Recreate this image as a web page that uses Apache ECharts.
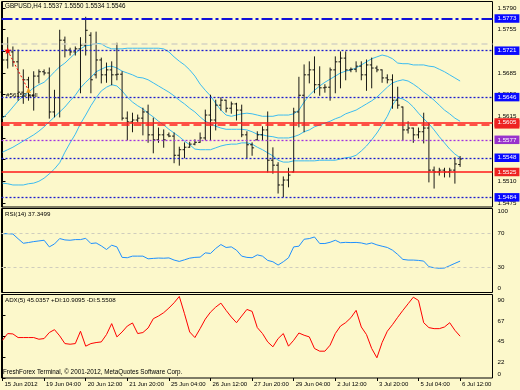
<!DOCTYPE html>
<html><head><meta charset="utf-8">
<script src="https://cdn.jsdelivr.net/npm/echarts@6/dist/echarts.min.js"></script>
<style>html,body{margin:0;padding:0;background:#fcf8cb;}#c{width:520px;height:390px;}</style>
</head><body><div id="c"></div>
<script>
// ---- data ----
const openP = [1.5654,1.5706,1.5719,1.5703,1.5654,1.5674,1.5649,1.5680,1.5687,1.5685,
1.5622,1.5645,1.5738,1.5722,1.5719,1.5724,1.5730,1.5746,1.5682,1.5706,
1.5682,1.5690,1.5682,1.5683,1.5612,1.5606,1.5609,1.5612,1.5622,1.5585,
1.5577,1.5585,1.5585,1.5583,1.5552,1.5561,1.5565,1.5570,1.5573,1.5580,
1.5617,1.5609,1.5633,1.5641,1.5628,1.5635,1.5625,1.5585,1.5569,1.5577,
1.5585,1.5593,1.5544,1.5536,1.5504,1.5512,1.5525,1.5622,1.5649,1.5682,
1.5690,1.5666,1.5661,1.5662,1.5690,1.5703,1.5709,1.5690,1.5691,1.5696,
1.5682,1.5698,1.5693,1.5690,1.5677,1.5674,1.5641,1.5630,1.5593,1.5596,
1.5585,1.5590,1.5596,1.5528,1.5525,1.5528,1.5525,1.5528,1.5537];
const highP = [1.5722,1.5742,1.5727,1.5722,1.5690,1.5678,1.5687,1.5690,1.5690,1.5693,
1.5657,1.5754,1.5743,1.5725,1.5727,1.5742,1.5775,1.5750,1.5751,1.5709,
1.5701,1.5703,1.5733,1.5687,1.5622,1.5620,1.5617,1.5628,1.5633,1.5612,
1.5596,1.5593,1.5588,1.5588,1.5565,1.5572,1.5573,1.5577,1.5588,1.5625,
1.5649,1.5641,1.5645,1.5641,1.5638,1.5636,1.5633,1.5590,1.5572,1.5590,
1.5598,1.5622,1.5564,1.5540,1.5517,1.5531,1.5628,1.5678,1.5698,1.5703,
1.5711,1.5695,1.5666,1.5693,1.5711,1.5719,1.5719,1.5693,1.5703,1.5703,
1.5706,1.5709,1.5696,1.5690,1.5682,1.5682,1.5662,1.5630,1.5606,1.5596,
1.5596,1.5620,1.5604,1.5533,1.5531,1.5531,1.5531,1.5548,1.5550];
const lowP = [1.5648,1.5693,1.5696,1.5641,1.5636,1.5641,1.5625,1.5669,1.5682,1.5612,
1.5614,1.5614,1.5711,1.5714,1.5714,1.5653,1.5714,1.5653,1.5677,1.5669,
1.5670,1.5666,1.5674,1.5609,1.5577,1.5590,1.5606,1.5585,1.5573,1.5556,
1.5573,1.5565,1.5582,1.5540,1.5536,1.5548,1.5565,1.5569,1.5573,1.5577,
1.5577,1.5593,1.5625,1.5622,1.5620,1.5609,1.5582,1.5548,1.5552,1.5577,
1.5577,1.5525,1.5523,1.5491,1.5485,1.5501,1.5525,1.5598,1.5590,1.5669,
1.5653,1.5649,1.5654,1.5641,1.5653,1.5661,1.5674,1.5687,1.5687,1.5674,
1.5657,1.5661,1.5687,1.5670,1.5669,1.5628,1.5628,1.5577,1.5588,1.5573,
1.5580,1.5572,1.5509,1.5499,1.5520,1.5517,1.5517,1.5507,1.5534];
const closeP = [1.5706,1.5719,1.5703,1.5654,1.5674,1.5649,1.5680,1.5687,1.5685,1.5622,
1.5645,1.5738,1.5722,1.5719,1.5724,1.5730,1.5754,1.5674,1.5706,1.5682,
1.5690,1.5682,1.5683,1.5612,1.5606,1.5609,1.5612,1.5622,1.5585,1.5577,
1.5585,1.5577,1.5583,1.5552,1.5561,1.5565,1.5570,1.5573,1.5580,1.5617,
1.5609,1.5633,1.5641,1.5628,1.5635,1.5625,1.5585,1.5569,1.5564,1.5585,
1.5593,1.5544,1.5536,1.5504,1.5512,1.5520,1.5622,1.5649,1.5682,1.5690,
1.5666,1.5661,1.5662,1.5690,1.5703,1.5709,1.5690,1.5691,1.5696,1.5682,
1.5698,1.5693,1.5690,1.5677,1.5674,1.5641,1.5633,1.5593,1.5596,1.5585,
1.5590,1.5596,1.5528,1.5525,1.5528,1.5525,1.5528,1.5538,1.5546];
const bbUpper = [1.5612,1.5620,1.5630,1.5640,1.5648,1.5654,1.5661,1.5666,1.5670,1.5678,
1.5687,1.5695,1.5701,1.5709,1.5717,1.5724,1.5729,1.5730,1.5733,1.5732,
1.5727,1.5724,1.5724,1.5724,1.5725,1.5725,1.5725,1.5725,1.5725,1.5725,
1.5725,1.5724,1.5719,1.5711,1.5704,1.5698,1.5690,1.5680,1.5667,1.5657,
1.5648,1.5636,1.5625,1.5617,1.5615,1.5617,1.5619,1.5620,1.5619,1.5617,
1.5615,1.5615,1.5615,1.5617,1.5617,1.5617,1.5619,1.5625,1.5638,1.5649,
1.5657,1.5664,1.5670,1.5675,1.5680,1.5685,1.5688,1.5690,1.5693,1.5698,
1.5703,1.5708,1.5711,1.5714,1.5712,1.5708,1.5701,1.5700,1.5700,1.5698,
1.5698,1.5698,1.5696,1.5695,1.5691,1.5687,1.5682,1.5677,1.5672];
const bbMiddle = [1.5557,1.5561,1.5565,1.5570,1.5575,1.5580,1.5585,1.5591,1.5598,1.5606,
1.5614,1.5622,1.5630,1.5640,1.5649,1.5661,1.5670,1.5678,1.5687,1.5691,
1.5695,1.5696,1.5693,1.5688,1.5685,1.5682,1.5678,1.5677,1.5674,1.5669,
1.5664,1.5659,1.5654,1.5648,1.5641,1.5635,1.5628,1.5622,1.5614,1.5607,
1.5603,1.5599,1.5596,1.5594,1.5594,1.5594,1.5594,1.5593,1.5590,1.5586,
1.5585,1.5583,1.5582,1.5580,1.5580,1.5580,1.5582,1.5585,1.5590,1.5593,
1.5598,1.5601,1.5604,1.5607,1.5611,1.5614,1.5619,1.5622,1.5625,1.5630,
1.5635,1.5640,1.5646,1.5654,1.5662,1.5669,1.5672,1.5674,1.5672,1.5667,
1.5661,1.5654,1.5648,1.5641,1.5633,1.5625,1.5619,1.5612,1.5607];
const bbLower = [1.5507,1.5506,1.5504,1.5504,1.5504,1.5506,1.5507,1.5510,1.5515,1.5522,
1.5530,1.5540,1.5557,1.5572,1.5586,1.5603,1.5617,1.5632,1.5645,1.5656,
1.5662,1.5666,1.5664,1.5656,1.5646,1.5638,1.5632,1.5627,1.5620,1.5614,
1.5607,1.5601,1.5594,1.5588,1.5582,1.5575,1.5569,1.5562,1.5561,1.5561,
1.5561,1.5564,1.5567,1.5569,1.5570,1.5570,1.5572,1.5572,1.5570,1.5565,
1.5561,1.5556,1.5551,1.5544,1.5541,1.5541,1.5543,1.5543,1.5543,1.5543,
1.5543,1.5544,1.5544,1.5544,1.5544,1.5546,1.5548,1.5549,1.5552,1.5559,
1.5567,1.5577,1.5588,1.5601,1.5615,1.5633,1.5645,1.5643,1.5638,1.5630,
1.5620,1.5611,1.5603,1.5593,1.5582,1.5572,1.5562,1.5554,1.5548];
const rsi = [70,70,69.6,64,58.6,59.5,60.6,61.4,62.2,54.3,
57.8,64.2,62.6,62.2,63,63,64.5,58.3,59,55.5,
51.2,56.3,54.3,41.8,41.4,43.3,43.3,43.3,40.1,40.6,
41.0,40.8,41.2,38.6,37,38.9,40.9,41.8,42.1,47.2,
46.5,52.4,57.1,53.6,54.3,50.4,43.3,41.8,41.4,44.8,
43.3,38.2,36.6,32.7,36.6,41.3,54.3,55.1,63.4,64.2,
66.1,58.3,58.3,59.8,62.2,59.2,59.7,59.4,59.6,59,
57.5,59,56.7,55.1,53.6,50.4,45.3,39.4,38.6,38.6,
38.2,37.4,30.7,29.5,28.8,29.1,31.9,34.7,37.3499];
const adx = [40.7,47.9,47.5,43.6,43.6,43.6,43.6,41.8,42.5,49,
52.1,45.4,37.1,36.4,37.1,50.4,34.3,37.1,38.2,38.9,
46.8,58.6,44.3,49.6,56,59.3,47.9,49,53.9,63.9,
66.8,70.4,75.4,81.1,87.9,69.3,49.6,43.6,53.2,63.5,
71,76.4,80.7,72.9,65.7,59.6,66.8,73.9,71.8,54.3,
47.9,38.9,33.6,42.5,47.9,34.3,40.7,48.5,46.1,44.3,
31.8,28.9,28.9,35.4,47.9,56,59.7,65,72.9,55,
46.8,31.8,21.8,38.2,50.4,57.5,65.4,72.9,80,87.1,
83.6,59.6,54.3,53.2,53.2,55,59.6,51.4,45.0357];
const xTickLabels = ['15 Jun 2012','19 Jun 04:00','20 Jun 12:00','21 Jun 20:00','25 Jun 04:00','26 Jun 12:00',
  '27 Jun 20:00','29 Jun 04:00','2 Jul 12:00','3 Jul 20:00','5 Jul 04:00','6 Jul 12:00'];
const xTickBars = [0,8,16,24,32,40,48,56,64,72,80,88];
const priceTicks = [1.5790,1.5755,1.5720,1.5685,1.5650,1.5615,1.5580,1.5545,1.5510,1.5475];
const rsiTicks = [0,30,70,100];
const rsiLevels = [70,30];
const adxTicks = [0,22.5,45,67.5,90];
const levelPrices = [1.5773,1.5733,1.5721,1.5646,1.5602,1.5605,1.5577,1.5548,1.5525,1.5484];
const orderBars = [1,5];
const orderPrices = [1.5721,1.5657];
const titleText = 'GBPUSD,H4 1.5537 1.5550 1.5534 1.5546';
const rsiText = 'RSI(14) 37.3499';
const adxText = 'ADX(5) 45.0357 +DI:10.9095 -DI:5.5508';
const footText = 'FreshForex Terminal, \u00A9 2001-2012, MetaQuotes Software Corp.';

// ---- styles / layout ----
const FONT = 'Liberation Sans, Arial, Helvetica, sans-serif';
const BLUE = '#1a1ad0', RED = '#ff1a1a', PURPLE = '#a030e0';
const levelStyles = [
  {color:'#1010d8', type:[11,3,3,3], width:2, box:'#0a0aff'},
  {color:'#d4d2c4', type:[6,4], width:1.5, box:null},
  {color:BLUE, type:[2,2], width:1.3, box:'#0a0aff'},
  {color:BLUE, type:[2,2], width:1.3, box:'#0a0aff'},
  {color:RED, type:[8,4], width:1.5, box:'#ee2222'},
  {color:RED, type:'solid', width:1.5, box:'#ee2222'},
  {color:PURPLE, type:[2,2], width:1.3, box:'#9933cc'},
  {color:BLUE, type:[2,2], width:1.3, box:'#0a0aff'},
  {color:RED, type:'solid', width:1.5, box:'#ee2222'},
  {color:BLUE, type:[2,2], width:1.3, box:'#0a0aff'}
];
// bar-index window of the chart (chart shift leaves empty space on the right)
const X_MIN = -0.1923, X_MAX = 94.2308;

const pairs = (arr) => arr.map((v, i) => [i, v]);

const chart = echarts.init(document.getElementById('c'), null, {renderer:'canvas', width:520, height:390});

const gridBase = {left:1.5, right:27.5, show:true, borderColor:'#000', borderWidth:1, backgroundColor:'transparent', outerBoundsMode:'none', containLabel:false};
const hiddenX = (g) => ({type:'value', gridIndex:g, min:X_MIN, max:X_MAX, show:false, splitLine:{show:false}});
const labelBase = {color:'#000', fontFamily:FONT, fontSize:6.2, hideOverlap:false};

const baseGraphic = [
  {type:'text', left:5, top:3.5, z:100, style:{text:titleText, fill:'#000', fontSize:6.3, fontFamily:FONT}},
  {type:'text', left:5, top:211.5, z:100, style:{text:rsiText, fill:'#000', fontSize:6.2, fontFamily:FONT}},
  {type:'text', left:5, top:297, z:100, style:{text:adxText, fill:'#000', fontSize:6.2, fontFamily:FONT}},
  {type:'text', left:3, top:369.5, z:100, style:{text:footText, fill:'#000', fontSize:6.3, fontFamily:FONT}}
];

const option = {
  backgroundColor:'#fcf8cb',
  animation:false,
  grid:[
    Object.assign({top:1.5, height:205.5}, gridBase),
    Object.assign({top:208.5, height:84}, gridBase),
    Object.assign({top:294.5, height:83.5}, gridBase)
  ],
  xAxis:[
    hiddenX(0), hiddenX(1),
    {type:'value', gridIndex:2, min:X_MIN, max:X_MAX,
     axisLine:{show:false}, splitLine:{show:false},
     axisTick:{show:true, customValues:xTickBars, length:3, lineStyle:{color:'#000'}},
     axisLabel:{color:'#000', fontFamily:FONT, hideOverlap:false, show:true, customValues:xTickBars, fontSize:6,
        align:'left', margin:3, padding:[0,0,0,2],
        formatter:(v) => xTickLabels[xTickBars.indexOf(Math.round(v))] || ''}}
  ],
  yAxis:[
    {type:'value', gridIndex:0, position:'right', min:1.546842, max:1.58005,
     splitLine:{show:false}, axisLine:{show:true, lineStyle:{color:'#000'}},
     axisTick:{show:true, length:3, customValues:priceTicks, lineStyle:{color:'#000'}},
     axisLabel:Object.assign({}, labelBase, {customValues:priceTicks, margin:5, formatter:v => v.toFixed(4)})},
    {type:'value', gridIndex:1, position:'right', min:0, max:100,
     splitLine:{show:false}, axisLine:{show:true, lineStyle:{color:'#000'}},
     axisTick:{show:true, length:3, customValues:rsiTicks, lineStyle:{color:'#000'}},
     axisLabel:Object.assign({}, labelBase, {customValues:rsiTicks.filter(v => v > 0), margin:5,
        showMaxLabel:true, verticalAlignMaxLabel:'top'})},
    {type:'value', gridIndex:2, position:'right', min:0, max:90,
     splitLine:{show:false}, axisLine:{show:true, lineStyle:{color:'#000'}},
     axisTick:{show:true, length:3, customValues:adxTicks, lineStyle:{color:'#000'}},
     axisLabel:{show:false}}
  ],
  graphic: baseGraphic,
  series:[
    {name:'levels', type:'line', xAxisIndex:0, yAxisIndex:0, data:pairs(bbMiddle), symbol:'none', z:2,
     lineStyle:{opacity:0}, silent:true,
     markLine:{symbol:['none','none'], silent:true, animation:false, precision:4,
       data: levelPrices.map((p, k) => {
         const s = levelStyles[k];
         return {yAxis:p,
           lineStyle:{color:s.color, type:s.type, width:s.width},
           label: s.box ? {show:true, position:'end', distance:2, formatter:() => p.toFixed(4),
             color:'#fff', backgroundColor:s.box, padding:[1.5,3,1,3], fontSize:6.2, fontFamily:FONT}
             : {show:false}};
       })}},
    {name:'upper', type:'line', xAxisIndex:0, yAxisIndex:0, data:pairs(bbUpper), symbol:'none', z:3,
     lineStyle:{color:'#3cbcf0', width:1}},
    {name:'middle', type:'line', xAxisIndex:0, yAxisIndex:0, data:pairs(bbMiddle), symbol:'none', z:3,
     lineStyle:{color:'#3cbcf0', width:1}},
    {name:'lower', type:'line', xAxisIndex:0, yAxisIndex:0, data:pairs(bbLower), symbol:'none', z:3,
     lineStyle:{color:'#3cbcf0', width:1}},
    {name:'bars', type:'custom', xAxisIndex:0, yAxisIndex:0, z:4,
     data: openP.map((o, i) => [i, o, highP[i], lowP[i], closeP[i]]),
     encode:{x:0, y:[1,2,3,4]},
     renderItem:function(params, api){
        const i = api.value(0);
        const o = api.coord([i, api.value(1)]);
        const h = api.coord([i, api.value(2)]);
        const l = api.coord([i, api.value(3)]);
        const c = api.coord([i, api.value(4)]);
        const x = o[0];
        const st = {stroke:'#000', lineWidth:0.9};
        return {type:'group', children:[
          {type:'line', shape:{x1:x, y1:h[1]-0.5, x2:x, y2:l[1]+0.5}, style:st},
          {type:'line', shape:{x1:x-2, y1:o[1], x2:x, y2:o[1]}, style:st},
          {type:'line', shape:{x1:x, y1:c[1], x2:x+2, y2:c[1]}, style:st}
        ]};
     }},
    {name:'order', type:'line', xAxisIndex:0, yAxisIndex:0, z:6,
     data: orderBars.map((b, k) => ({value:[b, orderPrices[k]],
        symbol: k === 0 ? 'path://M0,-10L2.4,-3.2L9.5,-3.1L3.8,1.2L5.9,8.1L0,4L-5.9,8.1L-3.8,1.2L-9.5,-3.1L-2.4,-3.2Z' : 'triangle',
        symbolSize: k === 0 ? 7 : 5,
        itemStyle:{color: k === 0 ? '#ff0000' : '#f0a020'},
        label: k === 1 ? {show:true, position:[-20, 4], formatter:'#56159 sell', color:'#000',
           fontSize:6.2, fontFamily:FONT, align:'left', verticalAlign:'top'} : {show:false}})),
     lineStyle:{color:'#ff0000', width:1, type:[2,2]}},
    {name:'rsi', type:'line', xAxisIndex:1, yAxisIndex:1, data:pairs(rsi), symbol:'none',
     lineStyle:{color:'#1e90ff', width:1},
     markLine:{symbol:['none','none'], silent:true, label:{show:false},
       data: rsiLevels.map(v => ({yAxis:v})), lineStyle:{color:'#cfcdbd', type:[3,3], width:1}}},
    {name:'adx', type:'line', xAxisIndex:2, yAxisIndex:2, data:pairs(adx), symbol:'none',
     lineStyle:{color:'#ff0000', width:1}}
  ]
};
chart.setOption(option);

// indicator-window edge/scale labels, positioned through the axes' own scales
const scaleLabels = [];
rsiTicks.filter(v => v === 0).forEach(v => {
  const y = chart.convertToPixel({yAxisIndex:1}, v);
  scaleLabels.push({type:'text', x:497.5, y:y - 4, z:100, silent:true,
    style:{text:String(v), fill:'#000', fontSize:6.2, fontFamily:FONT, align:'left', verticalAlign:'middle'}});
});
adxTicks.forEach(v => {
  const y = chart.convertToPixel({yAxisIndex:2}, v);
  const dy = v === 0 ? -4 : 5.5;
  scaleLabels.push({type:'text', x:497.5, y:y + dy, z:100, silent:true,
    style:{text:String(Math.floor(v)), fill:'#000', fontSize:6.2, fontFamily:FONT, align:'left', verticalAlign:'middle'}});
});
chart.setOption({graphic: baseGraphic.concat(scaleLabels)});
</script>
</body></html>
